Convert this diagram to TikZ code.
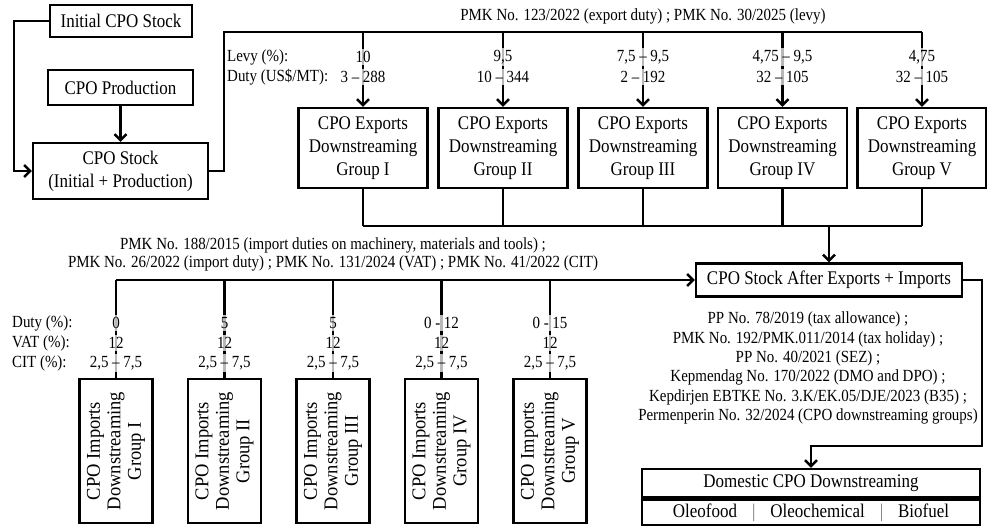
\documentclass[tikz,border=0pt]{standalone}
\usepackage{fontspec}
\setmainfont{Liberation Serif}[FakeStretch=0.88]
\newfontfamily\rotfont{Liberation Serif}[FakeStretch=0.95]
\usetikzlibrary{arrows.meta}
\begin{document}
\begin{tikzpicture}[x=1pt,y=-1pt,
  box/.style={draw, line width=2.4pt, inner sep=0pt, align=center, font=\fontsize{19.3}{23}\selectfont},
  rtext/.style={rotate=90, align=center, inner sep=0pt, font=\rotfont\fontsize{19.5}{20.5}\selectfont},
  lab/.style={font=\fontsize{17}{18}\selectfont, inner sep=0pt},
  val/.style={lab, fill=white, fill opacity=0.72, text opacity=1, inner xsep=1.5pt, inner ysep=2pt},
  conn/.style={line width=2.4pt},
  arr/.style={conn, -{Straight Barb[length=6pt,width=12pt]}},
]
\useasboundingbox (0,0) rectangle (987,526);

% ---------- left column ----------
\node[box, minimum width=142pt, minimum height=32pt] (init) at (121,21) {Initial CPO Stock};
\node[box, minimum width=145pt, minimum height=35pt] (prod) at (120.5,87.5) {CPO Production};
\node[box, minimum width=175pt, minimum height=56pt] (stock) at (120.5,171) {CPO Stock\\(Initial + Production)};
\draw[arr] (init.west) -- ++(-35,0) |- (stock.west);
\draw[arr] (prod.south) -- (stock.north);

% ---------- exports ----------
\node[lab] (ttl) at (643,16) {PMK No. 123/2022 (export duty) ; PMK No. 30/2025 (levy)};
\foreach \i/\r/\x in {1/I/363,2/II/503,3/III/643,4/IV/782.5,5/V/922}{
  \node[box, minimum width=129pt, minimum height=80pt] (e\i) at (\x,148) {CPO Exports\\Downstreaming\\Group \r};
  \coordinate (t\i) at (\x,32);
  \coordinate (b\i) at (\x,226);
}
\draw[conn] (stock.east) -- ++(15,0) |- (t5);
\foreach \i in {1,...,5}{
  \draw[arr] (t\i) -- (e\i.north);
  \draw[conn] (e\i.south) -- (b\i);
}
\draw[conn] (b1) -- (b5);

\node[lab, anchor=west] (levy) at (227,57) {Levy (\%):};
\node[lab, anchor=west] (duty) at (227,77) {Duty (US\$/MT):};
\node[val] at (363,57) {10};          \node[val] at (363,77) {3 – 288};
\node[val] at (503,57) {9,5};         \node[val] at (503,77) {10 – 344};
\node[val] at (643,57) {7,5 – 9,5};   \node[val] at (643,77) {2 – 192};
\node[val] at (782.5,57) {4,75 – 9,5};\node[val] at (782.5,77) {32 – 105};
\node[val] at (922,57) {4,75};        \node[val] at (922,77) {32 – 105};

% ---------- stock after ----------
\node[box, minimum width=266pt, minimum height=33pt] (after) at (829,280) {CPO Stock After Exports + Imports};
\coordinate (j) at (829,226);
\draw[arr] (j) -- (after.north);

% ---------- imports ----------
\node[lab] (it1) at (333,245) {PMK No. 188/2015 (import duties on machinery, materials and tools) ;};
\node[lab] (it2) at (333,263) {PMK No. 26/2022 (import duty) ; PMK No. 131/2024 (VAT) ; PMK No. 41/2022 (CIT)};
\foreach \i/\r/\x in {1/I/116,2/II/224.5,3/III/333,4/IV/441.5,5/V/550}{
  \node[box, minimum width=73pt, minimum height=144pt] (i\i) at (\x,451) {};
  \node[rtext] (il\i) at (i\i.center) {CPO Imports\\Downstreaming\\Group \r};
  \coordinate (m\i) at (\x,280);
  \draw[conn] (m\i) -- (i\i.north);
}
\draw[arr] (m1) -- (after.west);

\node[lab, anchor=west] (dl) at (12,323) {Duty (\%):};
\node[lab, anchor=west] (vl) at (12,343) {VAT (\%):};
\node[lab, anchor=west] (cl) at (12,363) {CIT (\%):};
\node[val] at (116,323) {0};      \node[val] at (116,343) {12};   \node[val] at (116,363) {2,5 – 7,5};
\node[val] at (224.5,323) {5};    \node[val] at (224.5,343) {12}; \node[val] at (224.5,363) {2,5 – 7,5};
\node[val] at (333,323) {5};      \node[val] at (333,343) {12};   \node[val] at (333,363) {2,5 – 7,5};
\node[val] at (441.5,323) {0 - 12};\node[val] at (441.5,343) {12};\node[val] at (441.5,363) {2,5 – 7,5};
\node[val] at (550,323) {0 - 15}; \node[val] at (550,343) {12};   \node[val] at (550,363) {2,5 – 7,5};

% ---------- domestic ----------
\node[lab, align=center, font=\fontsize{17}{19.3}\selectfont] (pol) at (808,368)
 {PP No. 78/2019 (tax allowance) ;\\
  PMK No. 192/PMK.011/2014 (tax holiday) ;\\
  PP No. 40/2021 (SEZ) ;\\
  Kepmendag No. 170/2022 (DMO and DPO) ;\\
  Kepdirjen EBTKE No. 3.K/EK.05/DJE/2023 (B35) ;\\
  Permenperin No. 32/2024 (CPO downstreaming groups)};
\node[box, minimum width=338pt, minimum height=28pt] (dom) at (811,483) {Domestic CPO Downstreaming};
\node[box, minimum width=338pt, minimum height=26pt, anchor=north] (dom2) at (dom.south)
 {Oleofood\hspace{15pt}{\color{black!55}|}\hspace{15pt}Oleochemical\hspace{15pt}{\color{black!55}|}\hspace{15pt}Biofuel};
\coordinate (r1) at (982,446);
\draw[arr] (after.east) -| (r1) -| (dom.north);
\end{tikzpicture}
\end{document}
